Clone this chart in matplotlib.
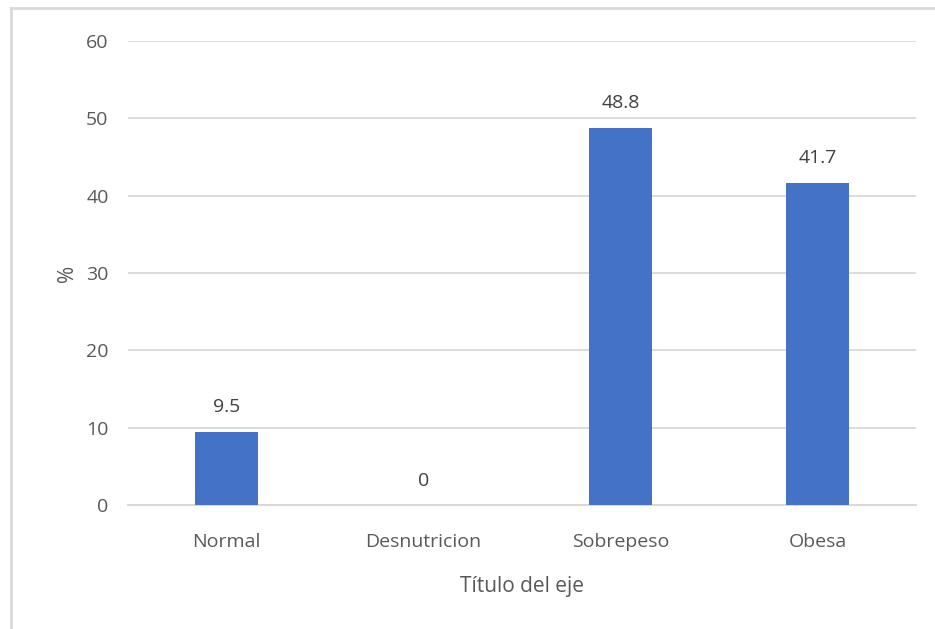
import matplotlib.pyplot as plt
from matplotlib.lines import Line2D
import numpy as np

categories = ["Normal", "Desnutricion", "Sobrepeso", "Obesa"]
values = [9.5, 0, 48.8, 41.7]
yticks = [0, 10, 20, 30, 40, 50, 60]

plt.rcParams["font.family"] = ["Open Sans", "DejaVu Sans"]
text_color = "#595959"
grid_color = "#d9d9d9"

fig = plt.figure(figsize=(9.35, 6.29), dpi=100)
W, H = 935, 629
ax = fig.add_axes([128 / W, 1 - 505 / H, (916 - 128) / W, (505 - 41) / H])

x = np.arange(len(categories))
bars = ax.bar(x, values, width=0.315, color="#4472C4", zorder=3)

for xi, v in zip(x, values):
    label = f"{v:g}"
    ax.annotate(label, (xi, v), xytext=(0, 11), textcoords="offset points",
                ha="center", va="bottom", fontsize=14, color="#404040")

ax.set_xlim(-0.5, len(categories) - 0.5)
ax.set_ylim(0, 60)
ax.set_yticks(yticks)
ax.set_xticks(x)
ax.set_xticklabels(categories)
ax.grid(axis="y", color=grid_color, linewidth=1.3, zorder=0)
ax.tick_params(axis="both", length=0, labelsize=14, colors=text_color)
ax.tick_params(axis="y", pad=14)
ax.tick_params(axis="x", pad=20)
for side in ["top", "right", "left"]:
    ax.spines[side].set_visible(False)
ax.spines["bottom"].set_color(grid_color)
ax.spines["bottom"].set_linewidth(1.5)

ax.set_xlabel("Título del eje", fontsize=15, color=text_color, labelpad=18)
ax.set_ylabel("%", fontsize=15, color=text_color, labelpad=6)

# outer chart frame (top and left edges)
fig.add_artist(Line2D([11 / W, 1], [1 - 8 / H, 1 - 8 / H], transform=fig.transFigure,
                      color=grid_color, linewidth=2))
fig.add_artist(Line2D([11 / W, 11 / W], [0, 1 - 8 / H], transform=fig.transFigure,
                      color=grid_color, linewidth=2))

fig.savefig("out.png", dpi=100)
